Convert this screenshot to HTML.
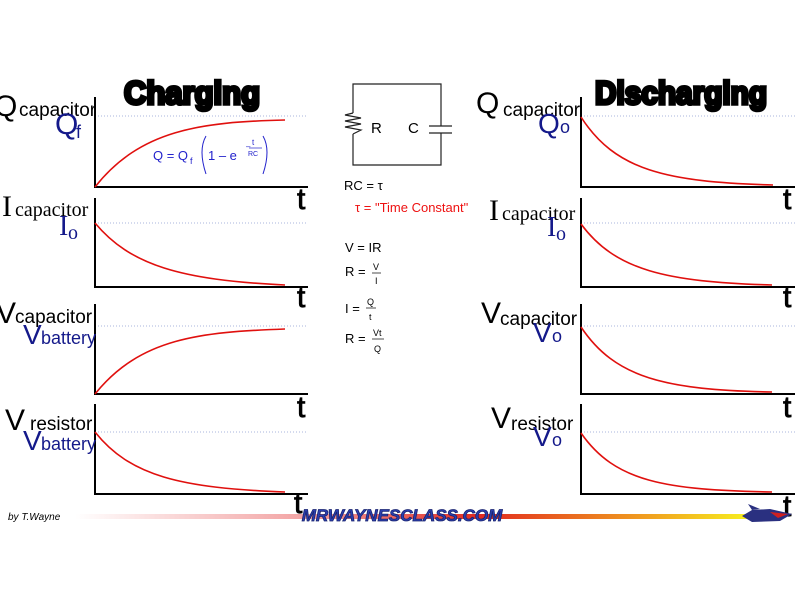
<!DOCTYPE html>
<html><head><meta charset="utf-8"><style>
html,body{margin:0;padding:0;background:#fff;}
svg{display:block;}
.ax{stroke:#000;stroke-width:2;fill:none}
.dot{stroke:#aab4dd;stroke-width:1;stroke-dasharray:1,2;fill:none}
.cv{stroke:#e0100e;stroke-width:1.6;fill:none}
.big{font-family:"Liberation Sans",sans-serif;fill:#000}
.ser{font-family:"Liberation Serif",serif;fill:#000}
.blue{fill:#14198a}
.t{font-family:"Liberation Sans",sans-serif;font-size:30px;fill:#000;stroke:#000;stroke-width:0.8}
</style></head><body>
<svg width="800" height="600" viewBox="0 0 800 600" xmlns="http://www.w3.org/2000/svg">
<defs>
<linearGradient id="g" x1="0" x2="1" y1="0" y2="0">
<stop offset="0" stop-color="#fff"/>
<stop offset="0.35" stop-color="#f2a0a0"/>
<stop offset="0.6" stop-color="#e22a20"/>
<stop offset="0.85" stop-color="#f0a020"/>
<stop offset="1" stop-color="#f7f020"/>
</linearGradient>
</defs>
<text x="192" y="104" text-anchor="middle" font-family="Liberation Sans,sans-serif" font-weight="900" font-size="32" stroke="#000" stroke-width="3.5" fill="#000" textLength="136" lengthAdjust="spacingAndGlyphs">Charging</text>
<text x="681" y="104" text-anchor="middle" font-family="Liberation Sans,sans-serif" font-weight="900" font-size="32" stroke="#000" stroke-width="3.5" fill="#000" textLength="172" lengthAdjust="spacingAndGlyphs">Discharging</text>

<g>
<line class="dot" x1="95" y1="116" x2="308" y2="116"/>
<path class="ax" d="M95 97 V187 H308"/>
<path class="cv" d="M95 187 C140 130,200 122,285 120"/>
<line class="dot" x1="95" y1="223" x2="308" y2="223"/>
<path class="ax" d="M95 198 V287 H308"/>
<path class="cv" d="M95 223 C130 265,180 280,285 285"/>
<line class="dot" x1="95" y1="326" x2="308" y2="326"/>
<path class="ax" d="M95 304 V394 H308"/>
<path class="cv" d="M95 394 C140 338,200 332,285 329"/>
<line class="dot" x1="95" y1="432" x2="308" y2="432"/>
<path class="ax" d="M95 404 V494 H308"/>
<path class="cv" d="M95 432 C130 476,180 488,285 492"/>
</g>
<g>
<line class="dot" x1="581" y1="116" x2="795" y2="116"/>
<path class="ax" d="M581 97 V187 H795"/>
<path class="cv" d="M581 117 C615 170,665 182,773 185"/>
<line class="dot" x1="581" y1="223" x2="795" y2="223"/>
<path class="ax" d="M581 198 V287 H795"/>
<path class="cv" d="M581 224 C615 270,665 282,772 285"/>
<line class="dot" x1="581" y1="326" x2="795" y2="326"/>
<path class="ax" d="M581 304 V394 H795"/>
<path class="cv" d="M581 327 C615 378,665 390,772 392"/>
<line class="dot" x1="581" y1="432" x2="795" y2="432"/>
<path class="ax" d="M581 404 V494 H795"/>
<path class="cv" d="M581 433 C615 482,665 490,772 492"/>
</g>

<text class="t" x="297" y="209">t</text>
<text class="t" x="297" y="307">t</text>
<text class="t" x="297" y="417">t</text>
<text class="t" x="294" y="513">t</text>
<text class="t" x="783" y="209">t</text>
<text class="t" x="783" y="307">t</text>
<text class="t" x="783" y="417">t</text>
<text class="t" x="783" y="516">t</text>

<text class="big" x="-6" y="116" font-size="30">Q</text>
<text class="big" x="19" y="116" font-size="19">capacitor</text>
<text class="big blue" x="55" y="134" font-size="30">Q</text>
<text class="big blue" x="76" y="138" font-size="18">f</text>
<text class="ser" x="2" y="216" font-size="30">I</text>
<text class="ser" x="15" y="216" font-size="20">capacitor</text>
<text class="ser blue" x="59" y="235" font-size="28">I</text>
<text class="ser blue" x="68" y="239" font-size="20">o</text>
<text class="big" x="-4" y="323" font-size="30">V</text>
<text class="big" x="15" y="323" font-size="19">capacitor</text>
<text class="big blue" x="23" y="344" font-size="28">V</text>
<text class="big blue" x="41" y="344" font-size="18">battery</text>
<text class="big" x="5" y="430" font-size="30">V</text>
<text class="big" x="30" y="430" font-size="19">resistor</text>
<text class="big blue" x="23" y="450" font-size="28">V</text>
<text class="big blue" x="41" y="450" font-size="18">battery</text>

<text class="big" x="476" y="113" font-size="30">Q</text>
<text class="big" x="503" y="116" font-size="19">capacitor</text>
<text class="big blue" x="538" y="133" font-size="28">Q</text>
<text class="big blue" x="560" y="133" font-size="18">o</text>
<text class="ser" x="489" y="220" font-size="30">I</text>
<text class="ser" x="502" y="220" font-size="20">capacitor</text>
<text class="ser blue" x="547" y="236" font-size="28">I</text>
<text class="ser blue" x="556" y="240" font-size="20">o</text>
<text class="big" x="481" y="323" font-size="30">V</text>
<text class="big" x="500" y="325" font-size="19">capacitor</text>
<text class="big blue" x="533" y="342" font-size="28">V</text>
<text class="big blue" x="552" y="342" font-size="18">o</text>
<text class="big" x="491" y="428" font-size="30">V</text>
<text class="big" x="511" y="430" font-size="19">resistor</text>
<text class="big blue" x="533" y="446" font-size="28">V</text>
<text class="big blue" x="552" y="446" font-size="18">o</text>

<g font-family="Liberation Sans,sans-serif" fill="#2222cc">
<text x="153" y="160" font-size="13">Q = Q</text>
<text x="190" y="164" font-size="9">f</text>
<path d="M206 136 Q198 150 206 174" stroke="#2222cc" fill="none"/>
<text x="208" y="160" font-size="13">1 – e</text>
<text x="246" y="149" font-size="8">–</text>
<text x="252" y="145" font-size="8">t</text>
<line x1="249" y1="148" x2="262" y2="148" stroke="#2222cc" stroke-width="0.7"/>
<text x="248" y="156" font-size="7">RC</text>
<path d="M263 136 Q271 150 263 174" stroke="#2222cc" fill="none"/>
</g>

<g stroke="#222" stroke-width="1.2" fill="none">
<path d="M353 113 V84 H441 V126"/>
<path d="M441 133 V165 H353 V134"/>
<path d="M353 113 L345 115 L361 118 L345 121 L361 124 L345 127 L361 130 L353 134"/>
<line x1="429" y1="126" x2="452" y2="126"/>
<line x1="429" y1="133" x2="452" y2="133"/>
</g>
<g font-family="Liberation Sans,sans-serif" font-size="15" fill="#000">
<text x="371" y="133">R</text>
<text x="408" y="133">C</text>
</g>

<g font-family="Liberation Sans,sans-serif" font-size="13" fill="#000">
<text x="344" y="190">RC = τ</text>
<text x="355" y="212" fill="#ee1111">τ = "Time Constant"</text>
<text x="345" y="252">V = IR</text>
<text x="345" y="276">R =</text>
<text x="373" y="270" font-size="9">V</text>
<line x1="372" y1="273" x2="381" y2="273" stroke="#000" stroke-width="0.7"/>
<text x="375" y="284" font-size="9">I</text>
<text x="345" y="313">I =</text>
<text x="367" y="305" font-size="9">Q</text>
<line x1="366" y1="308" x2="376" y2="308" stroke="#000" stroke-width="0.7"/>
<text x="369" y="320" font-size="9">t</text>
<text x="345" y="343">R =</text>
<text x="373" y="336" font-size="9">Vt</text>
<line x1="372" y1="339" x2="384" y2="339" stroke="#000" stroke-width="0.7"/>
<text x="374" y="352" font-size="9">Q</text>
</g>

<text x="8" y="520" font-family="Liberation Sans,sans-serif" font-style="italic" font-size="10" fill="#000">by T.Wayne</text>
<rect x="75" y="514" width="675" height="5" fill="url(#g)"/>
<text x="402" y="521" text-anchor="middle" font-family="Liberation Sans,sans-serif" font-weight="900" font-style="italic" font-size="17" fill="#2a3fb0" stroke="#1a2470" stroke-width="0.8">MRWAYNESCLASS.COM</text>
<g>
<path d="M742 516 L752 510 L770 509 L792 514 L780 521 L752 522 Z" fill="#2a3080"/>
<path d="M752 510 L748 504 L760 509 Z" fill="#2a3080"/>
<path d="M770 512 L788 514 L778 518 Z" fill="#d02020"/>
</g>
</svg>
</body></html>
